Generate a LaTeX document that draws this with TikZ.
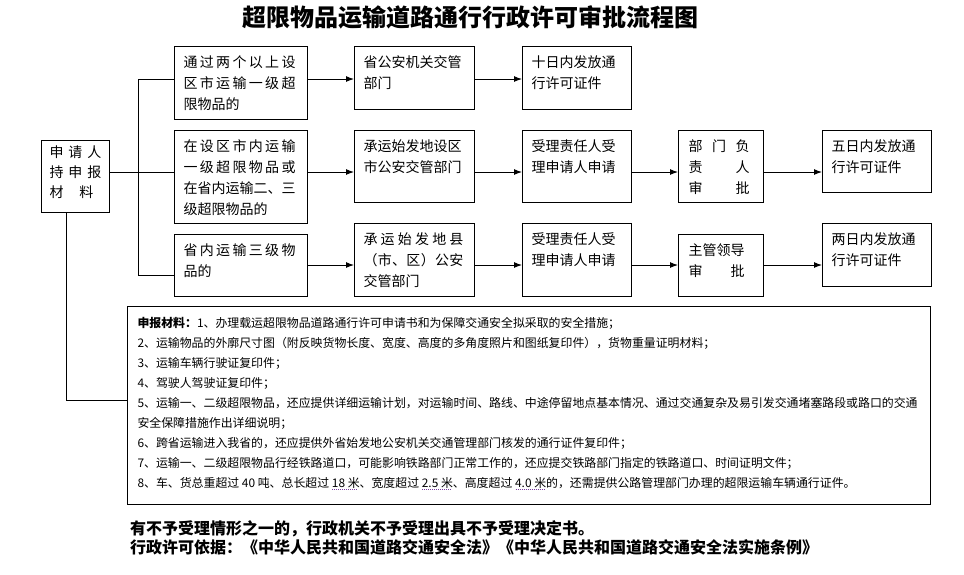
\documentclass[tikz,border=0pt]{standalone}
\usepackage{fontspec}
\setmainfont{Noto Sans CJK SC}
\usetikzlibrary{arrows.meta, positioning}
\definecolor{ulpurple}{RGB}{120, 60, 160}
\newsavebox{\ulbox}
\newcommand{\dotul}[1]{\sbox{\ulbox}{#1}\rlap{\raisebox{-2.5pt}{\hbox to \wd\ulbox{\color{ulpurple}\leaders\hbox to 2pt{\hss\rule{1pt}{0.7pt}\hss}\hfill}}}\usebox{\ulbox}}
\newcommand{\boxtxt}[3]{\parbox[c][#2pt][t]{#1pt}{#3}}
\def\sprfirst#1{#1\sprnext}
\def\sprnext#1{\ifx\relax#1\else\hfil#1\expandafter\sprnext\fi}
\newcommand{\spreadto}[2]{\leavevmode\hbox to #1{\sprfirst#2\relax}}
\tikzset{
  flowbox/.style={draw, line width=1pt, anchor=north west, inner xsep=9pt, inner ysep=9pt,
    font=\fontsize{14}{21}\selectfont},
  flow/.style={line width=1pt, -{Latex[length=8pt, width=6pt]}},
  link/.style={line width=1pt},
}

\begin{document}
\begin{tikzpicture}[x=1pt, y=-1pt]
  \useasboundingbox (0,0) rectangle (964,574);

  % Title
  \node[font=\fontsize{24}{24}\selectfont\bfseries] (title) at (470,17) {超限物品运输道路通行行政许可审批流程图};

  % Applicant
  \node[flowbox, inner xsep=8pt, inner ysep=5pt, font=\fontsize{14}{20}\selectfont] (appl) at (41,140)
    {\boxtxt{52}{62}{\spreadto{52pt}{申请人}\\\spreadto{52pt}{持申报}\\材\hspace{16pt}料}};

  % Row 1
  \node[flowbox] (kuaqu) at (174,46)
    {\boxtxt{115}{55}{\spreadto{112pt}{通过两个以上设}\\\spreadto{112pt}{区市运输一级超}\\限物品的}};
  \node[flowbox] (shengting) at (354,46) {\boxtxt{102}{45}{省公安机关交管\\部门}};
  \node[flowbox] (shiri) at (522,46) {\boxtxt{91}{45}{十日内发放通\\行许可证件}};

  % Row 2
  \node[flowbox] (shinei) at (174,130)
    {\boxtxt{115}{75}{\spreadto{112pt}{在设区市内运输}\\\spreadto{112pt}{一级超限物品或}\\\spreadto{112pt}{在省内运输二、三}\\级超限物品的}};
  \node[flowbox] (shijj) at (354,130) {\boxtxt{102}{54}{承运始发地设区\\市公安交管部门}};
  \node[flowbox] (slr2) at (522,130) {\boxtxt{91}{54}{受理责任人受\\理申请人申请}};
  \node[flowbox, inner xsep=10pt] (bmfz) at (678,130)
    {\boxtxt{65}{54}{\spreadto{61pt}{部门负}\\\spreadto{61pt}{责人}\\\spreadto{61pt}{审批}}};
  \node[flowbox] (wuri) at (822,130) {\boxtxt{91}{44}{五日内发放通\\行许可证件}};

  % Row 3
  \node[flowbox] (shengnei) at (174,234) {\boxtxt{115}{44}{\spreadto{112pt}{省内运输三级物}\\品的}};
  \node[flowbox] (xianjj) at (354,223)
    {\boxtxt{102}{55}{\spreadto{100pt}{承运始发地县}\\\spreadto{100pt}{（市、区）公安}\\交管部门}};
  \node[flowbox] (slr3) at (522,223) {\boxtxt{91}{55}{受理责任人受\\理申请人申请}};
  \node[flowbox, inner xsep=10pt] (zgld) at (678,234) {\boxtxt{65}{44}{主管领导\\\spreadto{56pt}{审批}}};
  \node[flowbox] (liangri) at (822,223) {\boxtxt{91}{45}{两日内发放通\\行许可证件}};

  % Materials
  \node[flowbox, inner xsep=10pt, inner ysep=11pt, font=\fontsize{11.9}{20}\selectfont] (cailiao) at (127,306)
    {\boxtxt{783}{176}{\textbf{申报材料：}1、办理载运超限物品道路通行许可申请书和为保障交通安全拟采取的安全措施；\\
      2、运输物品的外廓尺寸图（附反映货物长度、宽度、高度的多角度照片和图纸复印件），货物重量证明材料；\\
      3、运输车辆行驶证复印件；\\
      4、驾驶人驾驶证复印件；\\
      5、运输一、二级超限物品，还应提供详细运输计划，对运输时间、路线、中途停留地点基本情况、通过交通复杂及易引发交通堵塞路段或路口的交通\\
      安全保障措施作出详细说明；\\
      6、跨省运输进入我省的，还应提供外省始发地公安机关交通管理部门核发的通行证件复印件；\\
      7、运输一、二级超限物品行经铁路道口，可能影响铁路部门正常工作的，还应提交铁路部门指定的铁路道口、时间证明文件；\\
      8、车、货总重超过 40 吨、总长超过 \dotul{18 米}、宽度超过 \dotul{2.5 米}、高度超过 \dotul{4.0 米}的，还需提供公路管理部门办理的超限运输车辆通行证件。}};

  % Notes
  \node[anchor=north west, inner sep=0pt, align=left, font=\fontsize{16}{19}\selectfont\bfseries] (note) at (130,520)
    {有不予受理情形之一的，行政机关不予受理出具不予受理决定书。\\
     行政许可依据：《中华人民共和国道路交通安全法》《中华人民共和国道路交通安全法实施条例》};

  % Connectors
  \coordinate (r1) at (0,79);
  \coordinate (r2) at (0,172);
  \coordinate (r3) at (0,265);
  \coordinate (r3b) at (0,275);
  \coordinate (spine) at (138,0);
  \coordinate (drop) at (66,0);
  \coordinate (stub) at (0,400);
  \draw[link] (spine |- r1) -- (spine |- r3b);
  \draw[link] (spine |- r1) -- (kuaqu.west |- r1);
  \draw[link] (spine |- r3b) -- (shengnei.west |- r3b);
  \draw[link] (appl.east |- r2) -- (shinei.west |- r2);
  \draw[link] (appl.south -| drop) -- (drop |- stub) -- (cailiao.west |- stub);
  \foreach \a/\b/\r in {kuaqu/shengting/r1, shengting/shiri/r1,
      shinei/shijj/r2, shijj/slr2/r2, slr2/bmfz/r2, bmfz/wuri/r2,
      shengnei/xianjj/r3, xianjj/slr3/r3, slr3/zgld/r3, zgld/liangri/r3}
    \draw[flow] (\a.east |- \r) -- (\b.west |- \r);
\end{tikzpicture}
\end{document}
